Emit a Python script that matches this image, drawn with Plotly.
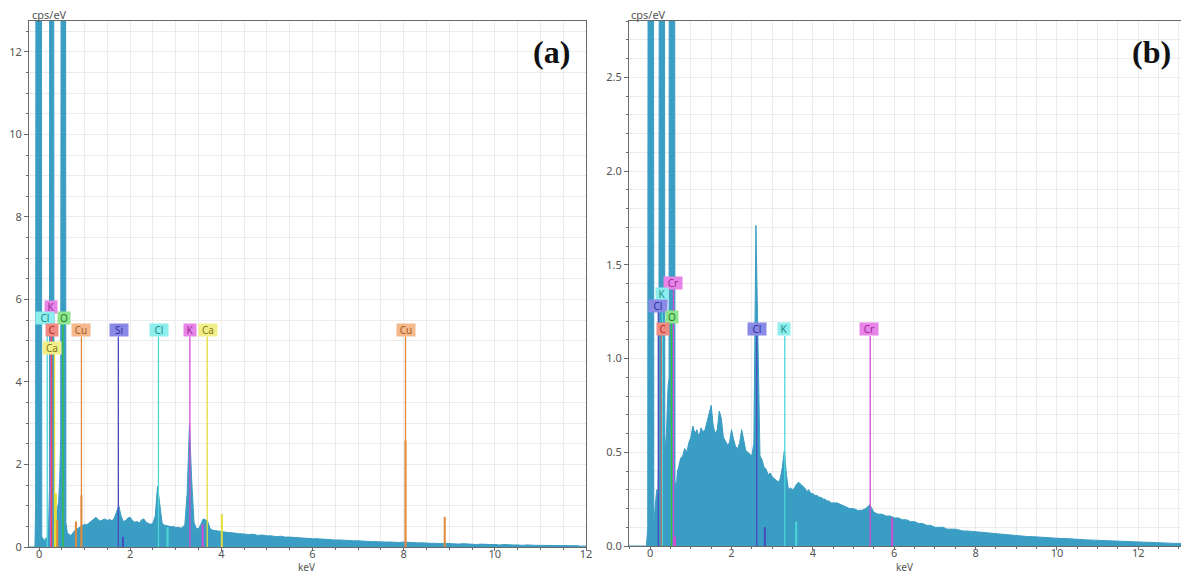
import numpy as np
import plotly.graph_objects as go

W, H = 1181, 574

# ---------------- DATA: panel (a) ----------------
a_low_kev = [-0.22, -0.09, -0.075, -0.065, 0.05, 0.06, 0.09, 0.12, 0.15, 0.18, 0.21, 0.228, 0.235,
             0.32, 0.328, 0.36, 0.40, 0.43, 0.455, 0.475, 0.49, 0.58, 0.59, 0.62, 0.66]
a_low_cps = [0, 0, 1.0, 20, 20, 0.25, 0.2, 0.15, 0.22, 0.18, 0.5, 1.4, 20,
             20, 1.1, 0.8, 0.9, 1.1, 1.7, 2.6, 20, 20, 0.6, 0.35, 0.3]
# 0.70 .. 4.50 keV, 0.05 keV channels
a_mid_cps = [0.28, 0.35, 0.42, 0.45, 0.48, 0.52, 0.55, 0.54, 0.58, 0.62,
             0.68, 0.72, 0.66, 0.63, 0.66, 0.68, 0.64, 0.67, 0.63, 0.70,
             0.85, 1.00, 0.75, 0.62, 0.64, 0.70, 0.72, 0.64, 0.60, 0.62,
             0.58, 0.66, 0.68, 0.60, 0.57, 0.55, 0.58, 0.75, 1.47, 0.95,
             0.58, 0.53, 0.52, 0.50, 0.49, 0.50, 0.47, 0.48, 0.46, 0.47,
             0.55, 1.30, 2.95, 1.60, 0.60, 0.45, 0.44, 0.55, 0.68, 0.66,
             0.62, 0.45, 0.41, 0.40, 0.39, 0.38, 0.38, 0.36, 0.36, 0.35,
             0.35, 0.34, 0.34, 0.33, 0.32, 0.32, 0.31]
# 4.6 .. 12.0 keV, 0.1 keV channels
a_high_cps = [0.30, 0.31, 0.28, 0.29, 0.27, 0.27, 0.25, 0.26, 0.24, 0.24,
              0.23, 0.22, 0.22, 0.21, 0.20, 0.20, 0.19, 0.18, 0.18, 0.17,
              0.17, 0.16, 0.16, 0.15, 0.15, 0.14, 0.14, 0.13, 0.13, 0.12,
              0.12, 0.12, 0.11, 0.11, 0.12, 0.11, 0.10, 0.10, 0.10, 0.09,
              0.09, 0.09, 0.08, 0.09, 0.08, 0.08, 0.07, 0.08, 0.07, 0.07,
              0.06, 0.07, 0.06, 0.06, 0.06, 0.05, 0.06, 0.05, 0.05, 0.05,
              0.04, 0.05, 0.04, 0.04, 0.04, 0.04, 0.03, 0.04, 0.03, 0.03,
              0.03, 0.03, 0.03, 0.02, 0.02]

a_line_el = ['Cl', 'K', 'C', 'Ca', 'O', 'Cu', 'Si', 'Cl', 'K', 'Ca', 'Cu']
a_line_kev = [0.18, 0.26, 0.277, 0.34, 0.525, 0.93, 1.74, 2.62, 3.31, 3.69, 8.04]
a_line_top = [5.45, 5.7, 5.15, 4.7, 5.45, 5.1, 5.1, 5.1, 5.1, 5.1, 5.1]

a_spk_el = ['K', 'Ca', 'Cu', 'Cu', 'Cu', 'Si', 'Cl', 'K', 'Ca', 'Cu', 'Cu']
a_spk_kev = [0.26, 0.37, 0.40, 0.81, 0.93, 1.84, 2.82, 3.59, 4.01, 8.04, 8.90]
a_spk_cps = [2.55, 1.3, 0.65, 0.62, 1.25, 0.25, 0.48, 0.55, 0.8, 2.58, 0.73]

a_lab_el = ['K', 'Cl', 'O', 'C', 'Ca', 'Cu', 'Si', 'Cl', 'K', 'Ca', 'Cu']
a_lab_kev = [0.27, 0.125, 0.55, 0.287, 0.29, 0.93, 1.76, 2.63, 3.32, 3.71, 8.04]
a_lab_cps = [5.82, 5.55, 5.55, 5.26, 4.82, 5.26, 5.26, 5.26, 5.26, 5.26, 5.26]

# ---------------- DATA: panel (b) ----------------
b_low_kev = [-0.52, -0.09, -0.06, -0.045, 0.08, 0.09, 0.12, 0.16, 0.19, 0.215, 0.228,
             0.35, 0.36, 0.40, 0.44, 0.465, 0.47, 0.60, 0.61, 0.64, 0.67]
b_low_cps = [0, 0, 0.1, 5, 5, 0.12, 0.2, 0.3, 0.25, 0.5, 5,
             5, 0.5, 0.6, 0.85, 0.9, 5, 5, 0.35, 0.3, 0.4]
# 0.70 .. 4.50 keV, 0.05 keV channels
b_mid_cps = [0.42, 0.47, 0.48, 0.52, 0.50, 0.55, 0.58, 0.64, 0.60, 0.62,
             0.58, 0.63, 0.61, 0.62, 0.66, 0.70, 0.75, 0.64, 0.60, 0.62,
             0.72, 0.68, 0.58, 0.56, 0.54, 0.55, 0.62, 0.57, 0.53, 0.52,
             0.55, 0.62, 0.56, 0.51, 0.50, 0.49, 0.48, 0.55, 1.71, 1.10,
             0.48, 0.46, 0.42, 0.41, 0.38, 0.39, 0.37, 0.36, 0.35, 0.34,
             0.36, 0.42, 0.51, 0.38, 0.30, 0.31, 0.30, 0.31, 0.33, 0.34,
             0.33, 0.32, 0.31, 0.29, 0.30, 0.28, 0.28, 0.27, 0.27, 0.26,
             0.26, 0.25, 0.25, 0.24, 0.24, 0.23, 0.23]
# 4.6 .. 13.1 keV, 0.1 keV channels
b_high_cps = [0.23, 0.22, 0.21, 0.20, 0.20, 0.19, 0.19, 0.20, 0.22, 0.18,
              0.17, 0.17, 0.16, 0.16, 0.15, 0.15, 0.14, 0.14, 0.13, 0.13,
              0.12, 0.12, 0.11, 0.11, 0.10, 0.10, 0.10, 0.09, 0.09, 0.09,
              0.085, 0.08, 0.08, 0.078, 0.075, 0.075, 0.07, 0.07, 0.068, 0.065,
              0.064, 0.062, 0.06, 0.058, 0.056, 0.055, 0.053, 0.05, 0.05, 0.048,
              0.047, 0.046, 0.045, 0.044, 0.042, 0.04, 0.04, 0.038, 0.036, 0.035,
              0.034, 0.033, 0.032, 0.031, 0.03, 0.029, 0.028, 0.027, 0.026, 0.025,
              0.024, 0.023, 0.022, 0.022, 0.021, 0.02, 0.019, 0.018, 0.018, 0.017,
              0.016, 0.015, 0.015, 0.014, 0.014, 0.013]

b_line_el = ['Cl', 'C', 'K', 'O', 'Cr', 'Cl', 'K', 'Cr']
b_line_kev = [0.2, 0.277, 0.3, 0.525, 0.573, 2.62, 3.31, 5.41]
b_line_top = [1.25, 1.13, 1.31, 1.19, 1.37, 1.12, 1.12, 1.12]

b_spk_el = ['Cl', 'K', 'Cr', 'Cr']
b_spk_kev = [2.82, 3.59, 5.95, 0.61]
b_spk_cps = [0.1, 0.13, 0.15, 0.05]

b_lab_el = ['Cr', 'K', 'Cl', 'O', 'C', 'Cl', 'K', 'Cr']
b_lab_kev = [0.56, 0.29, 0.2, 0.54, 0.31, 2.62, 3.29, 5.39]
b_lab_cps = [1.405, 1.345, 1.28, 1.22, 1.16, 1.16, 1.16, 1.16]

# ---------------- STYLES ----------------
SPEC = '#3a9dc3'
GRID = '#ececec'
AXC = '#6a6a6a'
TICKF = dict(family='Noto Sans, DejaVu Sans, sans-serif', size=11, color='#555555')
# (box, text, line)
MAG = ('#e884e8', '#9a2a9a', '#d04ed0')
CYA = ('#8eeeee', '#178a8a', '#4cd6d6')
GRN = ('#8fe58f', '#1f7f1f', '#38c238')
RED = ('#f08a82', '#b02a28', '#e0544c')
YEL = ('#f2ee8a', '#7f7a18', '#e2dc3a')
ORG = ('#f4b88c', '#a85a22', '#e0893c')
BLU = ('#8a8ae6', '#2a2a9e', '#4a4ac0')
style_a = {'K': MAG, 'Cl': CYA, 'O': GRN, 'C': RED, 'Ca': YEL, 'Cu': ORG, 'Si': BLU}
style_b = {'K': CYA, 'Cl': BLU, 'O': GRN, 'C': RED, 'Cr': MAG}

fig = go.Figure()


def add_panel(xa, ya, low_kev, low_cps, mid_cps, high_cps, high_start,
              line_el, line_kev, line_top, spk_el, spk_kev, spk_cps,
              lab_el, lab_kev, lab_cps, style):
    mid_kev = list(np.round(0.70 + 0.05 * np.arange(len(mid_cps)), 3))
    high_kev = list(np.round(high_start + 0.1 * np.arange(len(high_cps)), 3))
    xs = list(low_kev) + mid_kev + high_kev
    ys = list(low_cps) + list(mid_cps) + list(high_cps)
    fig.add_trace(go.Scatter(x=xs, y=ys, mode='lines', line=dict(color=SPEC, width=1),
                             fill='tozeroy', fillcolor=SPEC, xaxis=xa, yaxis=ya,
                             showlegend=False, hoverinfo='skip'))
    for el, k, h in zip(spk_el, spk_kev, spk_cps):
        fig.add_trace(go.Scatter(x=[k, k], y=[0, h], mode='lines',
                                 line=dict(color=style[el][2], width=2),
                                 xaxis=xa, yaxis=ya, showlegend=False, hoverinfo='skip'))
    for el, k, t in zip(line_el, line_kev, line_top):
        fig.add_trace(go.Scatter(x=[k, k], y=[0, t], mode='lines',
                                 line=dict(color=style[el][2], width=1.3),
                                 xaxis=xa, yaxis=ya, showlegend=False, hoverinfo='skip'))
    for el, k, yv in zip(lab_el, lab_kev, lab_cps):
        fig.add_annotation(x=k, y=yv, xref=xa, yref=ya, text=el, showarrow=False,
                           xanchor='center', yanchor='middle',
                           bgcolor=style[el][0], borderpad=1,
                           width=10 if len(el) == 1 else 16, height=10,
                           font=dict(family='Noto Sans, DejaVu Sans, sans-serif', size=10,
                                     color=style[el][1]))


add_panel('x', 'y', a_low_kev, a_low_cps, a_mid_cps, a_high_cps, 4.6,
          a_line_el, a_line_kev, a_line_top, a_spk_el, a_spk_kev, a_spk_cps,
          a_lab_el, a_lab_kev, a_lab_cps, style_a)
add_panel('x2', 'y2', b_low_kev, b_low_cps, b_mid_cps, b_high_cps, 4.6,
          b_line_el, b_line_kev, b_line_top, b_spk_el, b_spk_kev, b_spk_cps,
          b_lab_el, b_lab_kev, b_lab_cps, style_b)


def xaxis(domain, rng):
    return dict(domain=domain, range=rng, showline=True, linecolor=AXC, linewidth=1,
                mirror=True, ticks='outside', ticklen=3, tickcolor=AXC, tick0=0, dtick=2,
                ticklabelstandoff=-6,
                showgrid=True, gridcolor=GRID, zeroline=False, tickfont=TICKF,
                automargin=False,
                minor=dict(dtick=0.5, tick0=0, ticks='outside', ticklen=2, tickcolor=AXC,
                           showgrid=True, gridcolor=GRID))


def yaxis(domain, rng, dt, mdt, anchor, fmt):
    return dict(domain=domain, range=rng, anchor=anchor, showline=True, linecolor=AXC,
                linewidth=1, mirror=True, ticks='outside', ticklen=4, tickcolor=AXC,
                tick0=0, dtick=dt, tickformat=fmt, showgrid=True, gridcolor=GRID,
                zeroline=False, tickfont=TICKF, automargin=False,
                minor=dict(dtick=mdt, tick0=0, ticks='outside', ticklen=2, tickcolor=AXC,
                           showgrid=True, gridcolor=GRID))


fig.update_layout(
    width=W, height=H, margin=dict(l=0, r=0, t=0, b=0, autoexpand=False),
    paper_bgcolor='white', plot_bgcolor='white',
    xaxis=xaxis([29 / W, 586 / W], [-0.22, 12.0]) | dict(anchor='y'),
    yaxis=yaxis([1 - 547 / H, 1 - 21 / H], [0, 12.75], 2, 0.5, 'x', 'd'),
    xaxis2=xaxis([629 / W, 1.0], [-0.52, 13.05]) | dict(anchor='y2'),
    yaxis2=yaxis([1 - 546 / H, 1 - 21 / H], [0, 2.8], 0.5, 0.1, 'x2', '.1f'),
)

small = dict(family='Noto Sans, DejaVu Sans, sans-serif', size=11, color='#555555')
for xc, txt in [(49, 'cps/eV'), (648, 'cps/eV')]:
    fig.add_annotation(x=xc / W, y=1 - 14 / H, xref='paper', yref='paper', text=txt,
                       xanchor='center', yanchor='middle', showarrow=False, font=small)
for xc, txt in [(306, 'keV'), (904, 'keV')]:
    fig.add_annotation(x=xc / W, y=1 - 567 / H, xref='paper', yref='paper', text=txt,
                       xanchor='center', yanchor='middle', showarrow=False,
                       font=small | dict(size=10))
for xc, txt in [(551, '(a)'), (1151, '(b)')]:
    fig.add_annotation(x=xc / W, y=1 - 52 / H, xref='paper', yref='paper', text='<b>' + txt + '</b>',
                       xanchor='center', yanchor='middle', showarrow=False,
                       font=dict(family='Liberation Serif, Times New Roman, serif', size=32,
                                 color='#111111'))

fig.write_html('out.html', config={'displayModeBar': False},
               post_script="document.body.style.margin='0px';document.body.style.overflow='hidden';")
